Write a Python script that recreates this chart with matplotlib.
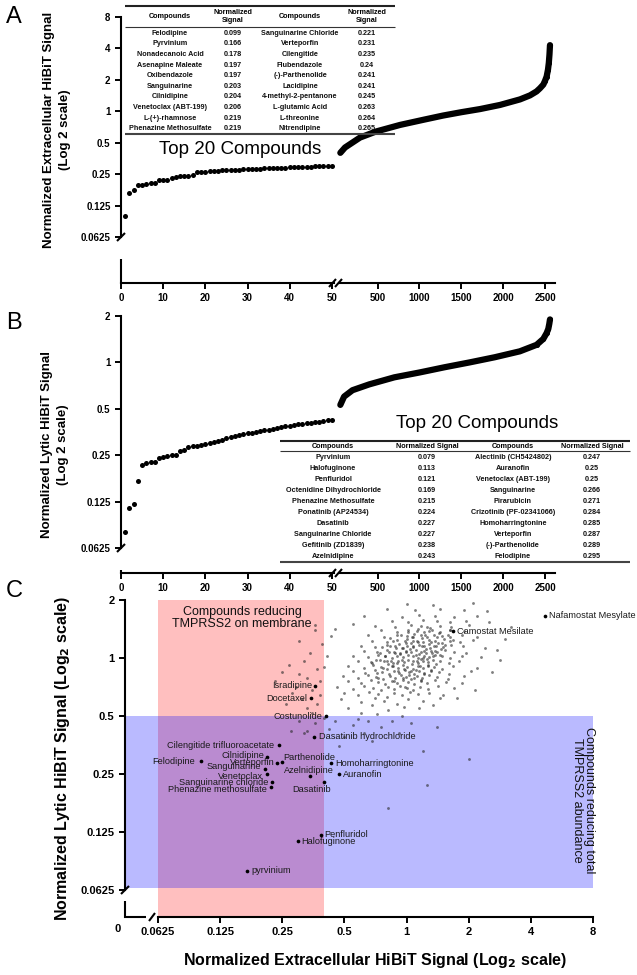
import matplotlib
matplotlib.use('Agg')
import matplotlib.pyplot as plt
from matplotlib import font_manager
from matplotlib.lines import Line2D
import math

W, H = 637, 975
fams = {f.name for f in font_manager.fontManager.ttflist}
MAIN = 'Liberation Sans' if 'Liberation Sans' in fams else 'DejaVu Sans'
NARROW = 'Liberation Sans Narrow' if 'Liberation Sans Narrow' in fams else MAIN
TSIZE = 6.2 if NARROW != MAIN else 5.2
plt.rcParams['font.family'] = [MAIN, 'DejaVu Sans']

# ---------------- data ----------------
log_ticks_a = [0.0625, 0.125, 0.25, 0.5, 1, 2, 4, 8]
log_ticks_b = [0.0625, 0.125, 0.25, 0.5, 1, 2]
log_ticks_c_x = [0.0625, 0.125, 0.25, 0.5, 1, 2, 4, 8]
rank_ticks_left = [0, 10, 20, 30, 40, 50]
rank_ticks_right = [500, 1000, 1500, 2000, 2500]

a_names_1 = ["Felodipine", "Pyrvinium", "Nonadecanoic Acid", "Asenapine Maleate", "Oxibendazole",
             "Sanguinarine", "Cilnidipine", "Venetoclax (ABT-199)", "L-(+)-rhamnose", "Phenazine Methosulfate"]
a_vals_1 = [0.099, 0.166, 0.178, 0.197, 0.197, 0.203, 0.204, 0.206, 0.219, 0.219]
a_names_2 = ["Sanguinarine Chloride", "Verteporfin", "Cilengitide", "Flubendazole", "(-)-Parthenolide",
             "Lacidipine", "4-methyl-2-pentanone", "L-glutamic Acid", "L-threonine", "Nitrendipine"]
a_vals_2 = [0.221, 0.231, 0.235, 0.24, 0.241, 0.241, 0.245, 0.263, 0.264, 0.265]
a_vals_2_txt = ["0.221", "0.231", "0.235", "0.24", "0.241", "0.241", "0.245", "0.263", "0.264", "0.265"]
a_rank21_50 = [0.266, 0.268, 0.269, 0.271, 0.272, 0.274, 0.275, 0.276, 0.278, 0.279,
               0.280, 0.281, 0.283, 0.284, 0.285, 0.286, 0.287, 0.288, 0.289, 0.290,
               0.291, 0.292, 0.293, 0.294, 0.295, 0.296, 0.297, 0.298, 0.300, 0.302]
a_right_rank = [55, 111, 290, 481, 768, 1050, 1282, 1500, 1724, 1963, 2202, 2321, 2400, 2440, 2480, 2500,
                2520, 2536, 2546, 2554, 2560]
a_right_vals = [0.40, 0.45, 0.56, 0.64, 0.74, 0.83, 0.91, 0.98, 1.05, 1.15, 1.30, 1.42, 1.55, 1.66, 1.80, 1.95,
                2.15, 2.50, 2.90, 3.50, 4.30]

b_names_1 = ["Pyrvinium", "Halofuginone", "Penfluridol", "Octenidine Dihydrochloride", "Phenazine Methosulfate",
             "Ponatinib (AP24534)", "Dasatinib", "Sanguinarine Chloride", "Gefitinib (ZD1839)", "Azelnidipine"]
b_vals_1 = [0.079, 0.113, 0.121, 0.169, 0.215, 0.224, 0.227, 0.227, 0.238, 0.243]
b_names_2 = ["Alectinib (CH5424802)", "Auranofin", "Venetoclax (ABT-199)", "Sanguinarine", "Pirarubicin",
             "Crizotinib (PF-02341066)", "Homoharringtonine", "Verteporfin", "(-)-Parthenolide", "Felodipine"]
b_vals_2 = [0.247, 0.25, 0.25, 0.266, 0.271, 0.284, 0.285, 0.287, 0.289, 0.295]
b_vals_2_txt = ["0.247", "0.25", "0.25", "0.266", "0.271", "0.284", "0.285", "0.287", "0.289", "0.295"]
b_rank21_50 = [0.300, 0.306, 0.311, 0.316, 0.322, 0.327, 0.331, 0.336, 0.341, 0.346,
               0.350, 0.355, 0.359, 0.363, 0.367, 0.371, 0.375, 0.380, 0.384, 0.388,
               0.392, 0.396, 0.399, 0.402, 0.406, 0.409, 0.412, 0.416, 0.420, 0.424]
b_right_rank = [55, 100, 200, 400, 700, 1000, 1300, 1600, 1900, 2200, 2400, 2480, 2520, 2540, 2552, 2560]
b_right_vals = [0.53, 0.60, 0.66, 0.72, 0.80, 0.86, 0.93, 1.00, 1.08, 1.18, 1.30, 1.42, 1.55, 1.65, 1.78, 1.90]

# Panel C: labelled compounds (extracellular, lytic)
c_names = ["Nafamostat Mesylate", "Camostat Mesilate", "Isradipine", "Docetaxel", "Costunolide",
           "Dasatinib hydrochloride", "Cilengitide trifluoroacetate", "Cilnidipine", "Felodipine", "Verteporfin",
           "Parthenolide", "Homoharringtonine", "Sanguinarine", "Venetoclax", "Auranofin", "Azelnidipine",
           "Dasatinib", "Sanguinarine chloride", "Phenazine methosulfate", "Penfluridol", "Halofuginone",
           "pyrvinium"]
c_x = [4.66, 1.67, 0.362, 0.343, 0.406, 0.358, 0.242, 0.210, 0.101, 0.235, 0.248, 0.43, 0.206, 0.210,
       0.47, 0.34, 0.40, 0.224, 0.221, 0.383, 0.297, 0.169]
c_y = [1.66, 1.38, 0.72, 0.62, 0.50, 0.391, 0.353, 0.308, 0.291, 0.287, 0.289, 0.285, 0.266, 0.25,
       0.25, 0.243, 0.227, 0.227, 0.215, 0.121, 0.113, 0.079]

# Panel C: remaining library compounds (extracellular, lytic)
cloud = [
    (0.52,0.55),(0.68,0.57),(0.81,0.54),(0.97,0.56),(1.15,0.55),
    (0.48,0.61),(0.60,0.59),(0.70,0.62),(0.78,0.60),(0.90,0.58),(1.02,0.61),(1.20,0.60),(1.45,0.62),
    (0.50,0.66),(0.58,0.64),(0.66,0.67),(0.73,0.65),(0.80,0.63),(0.87,0.66),(0.95,0.64),(1.04,0.67),(1.14,0.65),(1.28,0.66),(1.50,0.64),
    (0.46,0.71),(0.55,0.69),(0.62,0.72),(0.69,0.70),(0.75,0.68),(0.81,0.71),(0.87,0.69),(0.93,0.72),(1.00,0.70),(1.07,0.68),(1.16,0.71),(1.27,0.69),(1.42,0.72),(1.70,0.70),
    (0.52,0.76),(0.60,0.74),(0.67,0.77),(0.73,0.75),(0.79,0.73),(0.85,0.76),(0.90,0.74),(0.96,0.77),(1.02,0.75),(1.09,0.73),(1.17,0.76),(1.26,0.74),(1.38,0.77),(1.55,0.75),(1.85,0.74),
    (0.49,0.81),(0.58,0.79),(0.65,0.82),(0.71,0.80),(0.77,0.78),(0.83,0.81),(0.88,0.79),(0.94,0.82),(0.99,0.80),(1.05,0.78),(1.12,0.81),(1.19,0.79),(1.28,0.82),(1.40,0.80),(1.58,0.78),(1.90,0.81),
    (0.55,0.86),(0.63,0.84),(0.70,0.87),(0.76,0.85),(0.82,0.83),(0.87,0.86),(0.92,0.84),(0.98,0.87),(1.03,0.85),(1.09,0.83),(1.15,0.86),(1.22,0.84),(1.31,0.87),(1.43,0.85),(1.60,0.83),(2.05,0.86),
    (0.52,0.91),(0.62,0.89),(0.69,0.92),(0.75,0.90),(0.80,0.88),(0.86,0.91),(0.91,0.89),(0.96,0.92),(1.01,0.90),(1.07,0.88),(1.13,0.91),(1.20,0.89),(1.27,0.92),(1.36,0.90),(1.48,0.88),(1.68,0.91),(2.20,0.89),
    (0.58,0.97),(0.67,0.95),(0.74,0.98),(0.80,0.96),(0.86,0.94),(0.91,0.97),(0.97,0.95),(1.02,0.98),(1.08,0.96),(1.14,0.94),(1.20,0.97),(1.27,0.95),(1.35,0.98),(1.45,0.96),(1.60,0.94),(1.80,0.97),
    (0.55,1.03),(0.65,1.01),(0.73,1.04),(0.79,1.02),(0.85,1.00),(0.90,1.03),(0.96,1.01),(1.02,1.04),(1.08,1.02),(1.14,1.00),(1.21,1.03),(1.28,1.01),(1.37,1.04),(1.48,1.02),(1.62,1.00),(1.85,1.03),(2.30,1.01),
    (0.62,1.09),(0.72,1.07),(0.80,1.10),(0.87,1.08),(0.93,1.06),(0.99,1.09),(1.05,1.07),(1.11,1.10),(1.17,1.08),(1.24,1.06),(1.32,1.09),(1.41,1.07),(1.53,1.10),(1.70,1.08),(1.95,1.06),
    (0.60,1.16),(0.70,1.14),(0.80,1.17),(0.88,1.15),(0.95,1.13),(1.01,1.16),(1.08,1.14),(1.15,1.17),(1.22,1.15),(1.30,1.13),(1.39,1.16),(1.50,1.14),(1.65,1.17),(1.88,1.15),(2.40,1.13),
    (0.68,1.23),(0.80,1.21),(0.90,1.24),(0.98,1.22),(1.05,1.20),(1.12,1.23),(1.20,1.21),(1.28,1.24),(1.37,1.22),(1.48,1.20),(1.62,1.23),(1.82,1.21),(2.10,1.24),
    (0.65,1.31),(0.78,1.29),(0.90,1.32),(1.00,1.30),(1.08,1.28),(1.17,1.31),(1.26,1.29),(1.36,1.32),(1.48,1.30),(1.63,1.28),(1.85,1.31),(2.20,1.29),
    (0.75,1.39),(0.90,1.37),(1.02,1.40),(1.12,1.38),(1.22,1.36),(1.33,1.39),(1.46,1.37),(1.62,1.40),(1.90,1.38),
    (0.70,1.47),(0.88,1.45),(1.05,1.48),(1.18,1.46),(1.30,1.44),(1.45,1.47),(1.65,1.45),(2.00,1.48),
    (0.85,1.56),(1.02,1.54),(1.20,1.57),(1.40,1.55),(1.62,1.53),(1.95,1.56),(2.50,1.54),
    (0.62,1.66),(0.95,1.64),(1.15,1.67),(1.38,1.65),(1.70,1.63),(2.20,1.66),
    (0.80,1.79),(1.10,1.77),(1.45,1.80),(1.90,1.78),
    (1.00,1.91),(1.35,1.89),(2.10,1.92),
    (0.93,1.05),(1.17,0.99),(1.06,0.93),(0.84,0.97),(1.24,1.12),(0.99,1.19),(1.11,0.87),(0.77,0.89),(1.33,1.06),(0.89,1.13),
    (1.03,0.82),(1.19,1.27),(0.72,0.84),(1.42,1.19),(0.96,0.79),(1.27,0.91),(0.82,1.08),(1.09,1.34),(1.51,1.26),(0.68,0.94),
    (1.15,1.05),(0.91,0.86),(1.36,1.15),(0.79,1.02),(1.22,0.83),(1.01,1.25),(0.87,0.76),(1.46,1.04),(0.74,1.06),(1.13,1.21),
    (1.29,1.38),(0.98,0.71),(1.58,1.32),(0.83,1.27),(1.07,1.15),(1.39,0.93),(0.94,1.31),(1.18,0.77),(0.71,0.98),(1.25,1.45),
    (1.04,1.11),(0.88,1.06),(1.32,1.21),(1.12,0.96),(0.97,0.88),(1.21,1.09),(0.81,0.93),(1.44,1.35),(1.06,1.28),(0.92,1.18),
    (1.16,0.91),(1.35,1.02),(0.76,1.14),(1.54,1.17),(1.09,0.79),(0.86,1.22),(1.26,0.99),(1.67,1.24),(1.02,1.37),(0.73,0.79),
    (1.19,1.16),(0.95,0.98),(1.41,1.29),(0.85,0.91),(1.11,1.04),(1.31,0.86),(0.99,1.08),(1.23,1.31),(0.78,0.96),(1.47,1.12),
    (1.14,1.42),(0.90,0.94),(1.37,1.09),(1.05,0.86),(0.83,1.16),(1.62,1.39),(1.28,1.18),(0.96,1.13),(1.20,1.00),(1.08,1.23),
    (2.60,0.85),(2.75,1.10),(3.00,1.25),(2.85,0.98),(3.20,1.45),(2.45,1.75),(1.75,0.62),(2.15,0.68),(1.35,0.57),
    (0.40,0.90),(0.38,0.76),(0.41,1.02),(0.37,0.58),(0.43,1.30),(0.39,1.18),(0.36,1.48),(0.45,1.42),(0.55,1.50),
    (0.27,0.92),(0.30,0.83),(0.33,0.79),(0.29,0.71),(0.35,0.68),(0.31,0.61),(0.26,0.58),(0.34,1.06),(0.30,1.22),
    (0.36,1.40),(0.28,0.66),(0.23,0.76),(0.33,0.55),(0.37,0.88),(0.32,0.97),(0.25,0.85),(0.38,0.64),(0.35,0.52),
    (0.45,0.47),(0.55,0.45),(0.42,0.43),(0.62,0.41),(0.50,0.39),(0.75,0.44),(0.85,0.47),(0.68,0.37),(1.20,0.33),
    (0.92,0.41),(0.36,0.46),(1.25,0.22),(0.81,0.167),(2.00,0.30),(0.58,0.48),(1.05,0.46),(0.47,0.35),(0.40,0.49),
    (0.65,0.47),(1.40,0.44),(0.30,0.47),(0.33,0.42),(0.277,0.42),(0.32,0.41),(0.72,0.51),(0.95,0.50),(0.60,0.52),
]
cloud_x = [p[0] for p in cloud]
cloud_y = [p[1] for p in cloud]

pink_x = [0.0625, 0.40]
blue_y = [0.064, 0.5]

# ---------------- helpers ----------------
fig = plt.figure(figsize=(W / 100, H / 100), dpi=100)


def px_axes(x0, y0, x1, y1):
    ax = fig.add_axes([x0 / W, 1 - y1 / H, (x1 - x0) / W, (y1 - y0) / H])
    ax.patch.set_alpha(0)
    for s in ax.spines.values():
        s.set_visible(False)
        s.set_linewidth(1.5)
    ax.tick_params(width=1.4, length=4, labelsize=7)
    ax.minorticks_off()
    return ax


def fline(xs, ys, lw=1.5, color='black'):
    fig.add_artist(Line2D([x / W for x in xs], [1 - y / H for y in ys], lw=lw, color=color,
                          solid_capstyle='butt'))


def ftext(x, y, s, **kw):
    fig.text(x / W, 1 - y / H, s, **kw)


def bottom_val(v_top, px_top, v_ref, px_ref, px_bot):
    opp = math.log2(v_top / v_ref) / (px_ref - px_top)
    return v_ref * 2 ** (-(px_bot - px_ref) * opp)


def fmt(v):
    return ('%g' % v)


def rank_panel(top_px, bot_px, ref_px, ytop, yticks, left_vals, r_rank, r_vals):
    ybot = bottom_val(ytop, top_px, 0.0625, ref_px, bot_px)
    axl = px_axes(121, top_px, 334, bot_px)
    axl.set_yscale('log', base=2)
    axl.set_ylim(ybot, ytop)
    axl.set_xlim(0, 50.5)
    axl.scatter(list(range(1, len(left_vals) + 1)), left_vals, s=13, color='black', lw=0, clip_on=False, zorder=3)
    axl.spines['left'].set_visible(True)
    axl.spines['left'].set_bounds(0.0625, ytop)
    axl.spines['bottom'].set_visible(True)
    axl.set_yticks(yticks)
    axl.set_yticklabels([fmt(v) for v in yticks], fontweight='bold', fontsize=7)
    axl.minorticks_off()
    axl.set_xticks(rank_ticks_left)
    axl.set_xticklabels([str(v) for v in rank_ticks_left], fontweight='bold', fontsize=7)

    axr = px_axes(340, top_px, 555, bot_px)
    axr.set_yscale('log', base=2)
    axr.set_ylim(ybot, ytop)
    axr.set_xlim(51, 2620)
    axr.plot(r_rank, r_vals, color='black', lw=4.5, solid_capstyle='round', solid_joinstyle='round',
             clip_on=False, zorder=3)
    axr.scatter(r_rank[-6:], r_vals[-6:], s=13, color='black', lw=0, clip_on=False, zorder=3)
    axr.spines['bottom'].set_visible(True)
    axr.set_yticks([])
    axr.minorticks_off()
    axr.tick_params(left=False, labelleft=False)
    axr.set_xticks(rank_ticks_right)
    axr.set_xticklabels([str(v) for v in rank_ticks_right], fontweight='bold', fontsize=7)

    # axis breaks
    fline([117, 125], [ref_px + 4, ref_px - 4])
    fline([121, 121], [ref_px + 22, bot_px + 0.7])
    fline([329, 336], [bot_px + 4, bot_px - 4])
    fline([335, 342], [bot_px + 4, bot_px - 4])
    return axl, axr


def table(x_cols, x0, x1, y_top, y_hline, y_rows, y_bot, header_y, header, cols):
    fline([x0, x1], [y_top, y_top], lw=1.5, color='#222')
    fline([x0, x1], [y_hline, y_hline], lw=0.8, color='#333')
    fline([x0, x1], [y_bot, y_bot], lw=1.5, color='#444')
    for xc, h in zip(x_cols, header):
        ftext(xc, header_y, h, ha='center', va='center', fontsize=TSIZE, fontweight='bold',
              family=[NARROW, 'DejaVu Sans'], linespacing=1.25)
    for xc, col in zip(x_cols, cols):
        for yy, s in zip(y_rows, col):
            ftext(xc, yy, s, ha='center', va='center', fontsize=TSIZE, fontweight='bold',
                  family=[NARROW, 'DejaVu Sans'], color='#111')


# ---------------- Panel A ----------------
rank_panel(17, 283, 237, 8, log_ticks_a, a_vals_1 + a_vals_2 + a_rank21_50, a_right_rank, a_right_vals)
ftext(6, 6, 'A', fontsize=17, va='top', ha='left')
ftext(57, 130, 'Normalized Extracellular HiBiT Signal\n(Log 2 scale)', rotation=90, ha='center', va='center',
      fontsize=9.5, fontweight='bold', linespacing=1.35)
rows_a = [33.3 + i * 10.6 for i in range(10)]
table([170, 233, 300, 367], 125, 395, 6, 27, rows_a, 134, 16.5,
      ['Compounds', 'Normalized\nSignal', 'Compounds', 'Normalized\nSignal'],
      [a_names_1, ['%.3f' % v for v in a_vals_1], a_names_2, a_vals_2_txt])
ftext(240, 150, 'Top 20 Compounds', fontsize=13.5, ha='center', va='center')

# ---------------- Panel B ----------------
rank_panel(316, 573, 548, 2, log_ticks_b, b_vals_1 + b_vals_2 + b_rank21_50, b_right_rank, b_right_vals)
ftext(6, 312, 'B', fontsize=17, va='top', ha='left')
ftext(55, 445, 'Normalized Lytic HiBiT Signal\n(Log 2 scale)', rotation=90, ha='center', va='center',
      fontsize=9.5, fontweight='bold', linespacing=1.35)
rows_b = [457.7 + i * 11.0 for i in range(10)]
table([333, 427, 513, 592], 280, 630, 441, 451, rows_b, 562, 446.5,
      ['Compounds', 'Normalized Signal', 'Compounds', 'Normalized Signal'],
      [b_names_1, ['%.3f' % v for v in b_vals_1], b_names_2, b_vals_2_txt])
ftext(477, 424, 'Top 20 Compounds', fontsize=13.5, ha='center', va='center')

# ---------------- Panel C ----------------
c_xleft = 0.0625 * 2 ** (-(158 - 125) / 62.2)
c_ybot = 0.0625 * 2 ** (-(917 - 890) / 58.3)
axc = px_axes(125, 600, 593, 917)
axc.set_xscale('log', base=2)
axc.set_yscale('log', base=2)
axc.set_xlim(c_xleft, 8)
axc.set_ylim(c_ybot, 2)
axc.fill_between(pink_x, [c_ybot, c_ybot], [2, 2], color=(1, 0, 0), alpha=0.25, lw=0, zorder=1)
axc.fill_between([c_xleft, 8], [blue_y[0]] * 2, [blue_y[1]] * 2, color=(0, 0, 1), alpha=0.27, lw=0, zorder=1.1)
axc.scatter(cloud_x, cloud_y, s=4.2, color='#2a2a2a', alpha=0.6, lw=0, zorder=2)
axc.scatter(c_x, c_y, s=7, color='black', lw=0, zorder=3, clip_on=False)

lab_pos = {
    "Nafamostat Mesylate": (3, 0, 'left'), "Camostat Mesilate": (3, 0, 'left'),
    "Isradipine": (-2.5, 0, 'right'), "Docetaxel": (-2.5, 0, 'right'), "Costunolide": (-2.5, 0, 'right'),
    "Dasatinib hydrochloride": (3, 0, 'left'), "Cilengitide trifluoroacetate": (-4, 0, 'right'),
    "Cilnidipine": (-1.5, 1, 'right'), "Felodipine": (-4, 0, 'right'), "Verteporfin": (-1.5, 0, 'right'),
    "Parthenolide": (1.5, 3, 'left'), "Homoharringtonine": (3, -0.5, 'left'), "Sanguinarine": (-3, 1.5, 'right'),
    "Venetoclax": (-2.5, -2, 'right'), "Auranofin": (3, 0, 'left'), "Azelnidipine": (-1, 4, 'center'),
    "Dasatinib": (-9, -5.5, 'center'), "Sanguinarine chloride": (-3, 0, 'right'),
    "Phenazine methosulfate": (-3, -2, 'right'), "Penfluridol": (2.5, 0.5, 'left'),
    "Halofuginone": (2.5, -0.5, 'left'), "pyrvinium": (3, 0, 'left'),
}
for n, xv, yv in zip(c_names, c_x, c_y):
    dx, dy, ha = lab_pos[n]
    axc.annotate(n, (xv, yv), xytext=(dx, dy), textcoords='offset points', ha=ha, va='center',
                 fontsize=6.6, color='#1a1a1a', zorder=4, annotation_clip=False)

axc.spines['left'].set_visible(True)
axc.spines['left'].set_bounds(0.0625, 2)
axc.spines['bottom'].set_visible(True)
axc.spines['bottom'].set_bounds(0.0625, 8)
axc.set_yticks(log_ticks_b)
axc.set_yticklabels([fmt(v) for v in log_ticks_b], fontweight='bold', fontsize=8)
axc.set_xticks(log_ticks_c_x)
axc.set_xticklabels([fmt(v) for v in log_ticks_c_x], fontweight='bold', fontsize=8)
axc.minorticks_off()

fline([125, 125], [901, 917.7])
fline([124.3, 146], [917, 917])
fline([121, 129], [894, 886])
fline([149, 155], [921, 913])
ftext(118, 929, '0', fontsize=8, fontweight='bold', ha='center', va='center')

ftext(242, 618, 'Compounds reducing\nTMPRSS2 on membrane', fontsize=9, ha='center', va='center', linespacing=1.1,
      color='#111')
ftext(583, 800, 'Compounds reducing total\nTMPRSS2 abundance', fontsize=9, ha='center', va='center',
      rotation=-90, linespacing=1.1, color='#111')

ftext(6, 580, 'C', fontsize=17, va='top', ha='left')
ftext(63, 758, 'Normalized Lytic HiBiT Signal (Log$_\\mathbf{2}$ scale)', rotation=90, ha='center', va='center',
      fontsize=11.5, fontweight='bold')
ftext(375, 960, 'Normalized Extracellular HiBiT Signal (Log$_\\mathbf{2}$ scale)', ha='center', va='center',
      fontsize=11.5, fontweight='bold')

fig.savefig('out.png', dpi=100)
